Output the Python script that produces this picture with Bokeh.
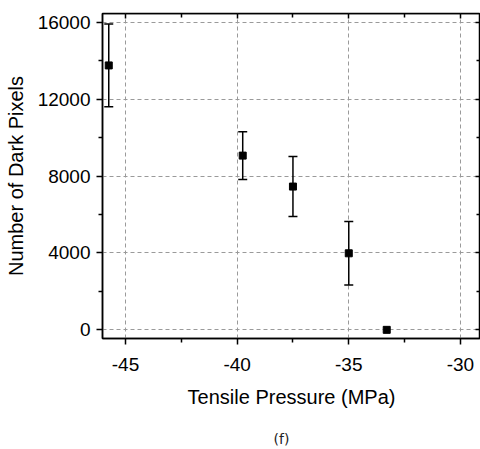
from bokeh.plotting import figure
from bokeh.models import (ColumnDataSource, Whisker, TeeHead, LinearAxis, FixedTicker, Title,
                          CustomJSTickFormatter)
from bokeh.embed import file_html
from bokeh.resources import INLINE

# Data
pressure = [-45.75, -39.75, -37.5, -35.0, -33.3]
dark_pixels = [13750, 9060, 7450, 3980, 0]
errors = [2150, 1240, 1560, 1650, 0]

x_ticks = [-45, -40, -35, -30]
x_minor = [-42.5, -37.5, -32.5]
y_ticks = [0, 4000, 8000, 12000, 16000]
y_minor = [2000, 6000, 10000, 14000]

FONT = "Liberation Sans"
X0, X1 = -46.03, -29.10
Y0, Y1 = -450, 16450

p = figure(width=480, height=449, x_range=(X0, X1), y_range=(Y0, Y1),
           output_backend="svg", toolbar_location=None,
           min_border_left=102, min_border_right=0, min_border_top=13, min_border_bottom=111,
           x_axis_label="Tensile Pressure (MPa)", y_axis_label="Number of Dark Pixels")

p.outline_line_color = "black"
p.outline_line_width = 1.5

xt = FixedTicker(ticks=x_ticks, minor_ticks=x_minor)
yt = FixedTicker(ticks=y_ticks, minor_ticks=y_minor)
plain = CustomJSTickFormatter(code="return String(tick);")
blank = CustomJSTickFormatter(code="return '';")

for ax in (p.xaxis[0], p.yaxis[0]):
    ax.formatter = plain
    ax.axis_line_width = 1.5
    ax.major_tick_line_width = 1.5
    ax.minor_tick_line_width = 1.5
    ax.major_tick_in = 0
    ax.major_tick_out = 6
    ax.minor_tick_in = 0
    ax.minor_tick_out = 4
    ax.major_label_text_font = FONT
    ax.major_label_text_font_size = "19px"
    ax.major_label_text_color = "black"
    ax.axis_label_text_font = FONT
    ax.axis_label_text_font_size = "20px"
    ax.axis_label_text_font_style = "normal"
    ax.axis_label_text_color = "black"

p.xaxis[0].ticker = xt
p.yaxis[0].ticker = yt
p.xaxis[0].major_label_standoff = 13
p.xaxis[0].axis_label_standoff = 12
p.yaxis[0].major_label_standoff = 6
p.yaxis[0].axis_label_standoff = 8

# mirrored axes with inward ticks and no labels
top = LinearAxis(ticker=xt, formatter=blank, major_label_standoff=0, fixed_location=Y1,
                 major_tick_in=5, major_tick_out=0, minor_tick_in=4, minor_tick_out=0,
                 axis_line_width=1.5, major_tick_line_width=1.5, minor_tick_line_width=1.5)
right = LinearAxis(ticker=yt, formatter=blank, major_label_standoff=0, fixed_location=X1,
                   major_tick_in=5, major_tick_out=0, minor_tick_in=4, minor_tick_out=0,
                   axis_line_width=1.5, major_tick_line_width=1.5, minor_tick_line_width=1.5)
p.add_layout(top, "above")
p.add_layout(right, "right")

for g in (p.xgrid[0], p.ygrid[0]):
    g.grid_line_color = "#9a9a9a"
    g.grid_line_dash = "4 3"
    g.grid_line_width = 1
p.xgrid[0].ticker = xt
p.ygrid[0].ticker = yt

# error bars (only where an error exists)
wx, wu, wl = [], [], []
for xv, yv, e in zip(pressure, dark_pixels, errors):
    if e > 0:
        wx.append(xv)
        wu.append(yv + e)
        wl.append(yv - e)
wsrc = ColumnDataSource(data=dict(x=wx, upper=wu, lower=wl))
whisk = Whisker(base="x", upper="upper", lower="lower", source=wsrc,
                line_color="black", line_width=1.5,
                upper_head=TeeHead(size=9, line_width=1.5, line_color="black"),
                lower_head=TeeHead(size=9, line_width=1.5, line_color="black"))
p.add_layout(whisk)

src = ColumnDataSource(data=dict(x=pressure, y=dark_pixels))
p.scatter("x", "y", source=src, marker="square", size=7, color="black")

p.add_layout(Title(text="\n(f)", align="left", offset=171, vertical_align="bottom",
                   text_font="DejaVu Sans", text_font_size="14px", text_font_style="normal",
                   text_color="#222222", standoff=4), "below")

open("out.html", "w").write(file_html(p, INLINE))
